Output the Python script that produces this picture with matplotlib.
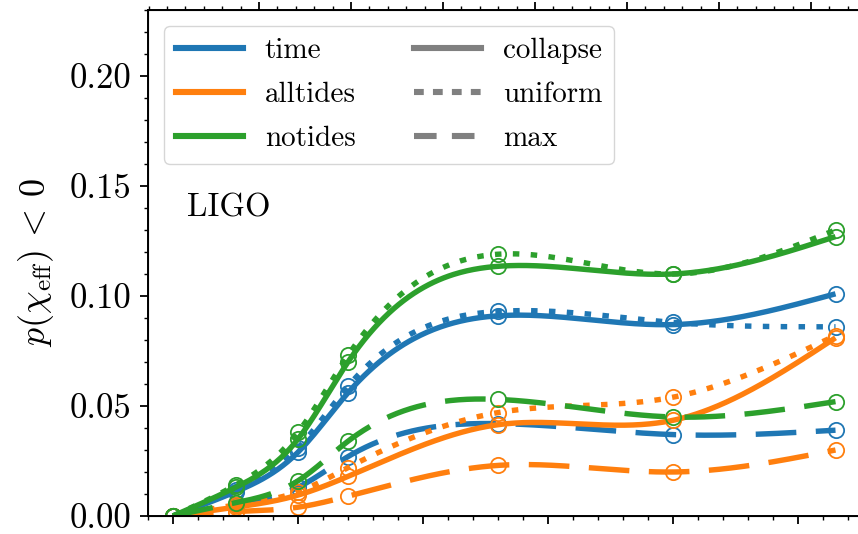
import numpy as np
import matplotlib
matplotlib.use("Agg")
import matplotlib.pyplot as plt
from matplotlib.lines import Line2D
from matplotlib.ticker import MultipleLocator, FixedLocator

plt.rcParams['font.family'] = 'serif'
plt.rcParams['font.serif'] = ['cmr10', 'DejaVu Serif']
plt.rcParams['mathtext.fontset'] = 'cm'
plt.rcParams['axes.formatter.use_mathtext'] = True
plt.rcParams['axes.unicode_minus'] = False

# ---------------- data ----------------
x_vals = [0.0, 0.5, 1.0, 1.4, 2.6, 4.0, 5.3]

time_collapse = [0.0, 0.011, 0.029, 0.056, 0.091, 0.087, 0.101]
time_uniform = [0.0, 0.012, 0.031, 0.059, 0.093, 0.088, 0.086]
time_max = [0.0, 0.005, 0.013, 0.027, 0.042, 0.037, 0.039]

alltides_collapse = [0.0, 0.004, 0.0095, 0.018, 0.0415, 0.0435, 0.081]
alltides_uniform = [0.0, 0.005, 0.011, 0.022, 0.047, 0.054, 0.082]
alltides_max = [0.0, 0.002, 0.004, 0.009, 0.023, 0.020, 0.030]

notides_collapse = [0.0, 0.013, 0.035, 0.070, 0.1135, 0.110, 0.127]
notides_uniform = [0.0, 0.014, 0.038, 0.073, 0.119, 0.110, 0.130]
notides_max = [0.0, 0.006, 0.016, 0.034, 0.053, 0.045, 0.052]

model_names = ['time', 'alltides', 'notides']
model_colors = ['#1f77b4', '#ff7f0e', '#2ca02c']
variant_names = ['collapse', 'uniform', 'max']

series = {
    'time': [time_collapse, time_uniform, time_max],
    'alltides': [alltides_collapse, alltides_uniform, alltides_max],
    'notides': [notides_collapse, notides_uniform, notides_max],
}

y_ticks = [0.00, 0.05, 0.10, 0.15, 0.20]


# ---------------- smooth curve (natural cubic spline) ----------------
def spline(x, y, xs):
    x = np.asarray(x, float)
    y = np.asarray(y, float)
    n = len(x)
    h = np.diff(x)
    A = np.zeros((n, n))
    b = np.zeros(n)
    A[0, 0] = 1.0
    A[-1, -1] = 1.0
    for i in range(1, n - 1):
        A[i, i - 1] = h[i - 1]
        A[i, i] = 2 * (h[i - 1] + h[i])
        A[i, i + 1] = h[i]
        b[i] = 6 * ((y[i + 1] - y[i]) / h[i] - (y[i] - y[i - 1]) / h[i - 1])
    M = np.linalg.solve(A, b)
    idx = np.clip(np.searchsorted(x, xs) - 1, 0, n - 2)
    x0, x1 = x[idx], x[idx + 1]
    hh = x1 - x0
    return (M[idx] * (x1 - xs) ** 3 / (6 * hh) + M[idx + 1] * (xs - x0) ** 3 / (6 * hh)
            + (y[idx] / hh - M[idx] * hh / 6) * (x1 - xs)
            + (y[idx + 1] / hh - M[idx + 1] * hh / 6) * (xs - x0))


# ---------------- figure ----------------
W, H = 858, 534
fig = plt.figure(figsize=(W / 100, H / 100), dpi=100)
ax_left, ax_right, ax_bot, ax_top = 148, 870, 516, 10
ax = fig.add_axes([ax_left / W, (H - ax_bot) / H,
                   (ax_right - ax_left) / W, (ax_bot - ax_top) / H])

lw = 3.9
styles = [dict(linestyle='-'),
          dict(linestyle=(0, (1.2, 2.1))),
          dict(linestyle=(0, (7.5, 3.6)))]

xs = np.linspace(x_vals[0], x_vals[-1], 400)
for name, color in zip(model_names, model_colors):
    for vals, st in zip(series[name], styles):
        ax.plot(xs, spline(x_vals, vals, xs), color=color, lw=lw,
                solid_capstyle='butt', dash_capstyle='butt', **st)
        ax.plot(x_vals, vals, 'o', ms=11, mfc='none', mec=color, mew=1.3)

# axis ranges
unit_b = 125.0  # px per bottom unit
ax.set_xlim(-(173 - ax_left) / unit_b, -(173 - ax_left) / unit_b + (ax_right - ax_left) / unit_b)
ax.set_ylim(0, 0.23)
ax.yaxis.set_major_locator(FixedLocator(y_ticks))
ax.yaxis.set_minor_locator(MultipleLocator(0.01))
ax.xaxis.set_major_locator(MultipleLocator(1))
ax.xaxis.set_minor_locator(MultipleLocator(0.2))
ax.yaxis.set_major_formatter(matplotlib.ticker.FormatStrFormatter('%.2f'))

ax.tick_params(which='both', direction='out', labelsize=25, width=1.3,
               bottom=True, left=True, right=True, top=False,
               labelbottom=False, labelleft=True)
ax.tick_params(which='major', length=5.8, pad=6)
ax.tick_params(which='minor', length=3.0, width=1.0)
for sp in ax.spines.values():
    sp.set_linewidth(1.4)

# secondary top axis
ax2 = ax.twiny()
unit_t = 92.0
t_left = 1 - (259 - ax_left) / unit_t
ax2.set_xlim(t_left, t_left + (ax_right - ax_left) / unit_t)
ax2.xaxis.set_major_locator(FixedLocator([1, 2, 3, 4, 5, 6, 7]))
ax2.xaxis.set_minor_locator(MultipleLocator(0.2))
ax2.tick_params(which='both', direction='out', top=True, labeltop=False, width=1.3)
ax2.tick_params(which='major', length=5.8)
ax2.tick_params(which='minor', length=3.0, width=1.0)

ax.set_ylabel(r'$p(\chi_{\rm eff})\,<\,0$', fontsize=26)
ax.yaxis.set_label_coords(-0.128, 0.5)

ax.text(0.054, 0.591, 'LIGO', transform=ax.transAxes, fontsize=23.5,
        ha='left', va='baseline')

# legend
handles = [Line2D([], [], color=c, lw=4.4) for c in model_colors]
gray = '#808080'
handles += [Line2D([], [], color=gray, lw=4.4, linestyle='-'),
            Line2D([], [], color=gray, lw=4.4, linestyle=(0, (1.6, 1.5))),
            Line2D([], [], color=gray, lw=4.4, linestyle=(0, (3.7, 2.5)))]
labels = model_names + variant_names
ax.legend(handles, labels, ncol=2, loc='upper left', fontsize=21,
          handlelength=2.3, handletextpad=0.75, columnspacing=2.0,
          labelspacing=0.6, borderaxespad=0.55, borderpad=0.4,
          framealpha=0.8, fancybox=True)

fig.savefig('out.png', dpi=100)
